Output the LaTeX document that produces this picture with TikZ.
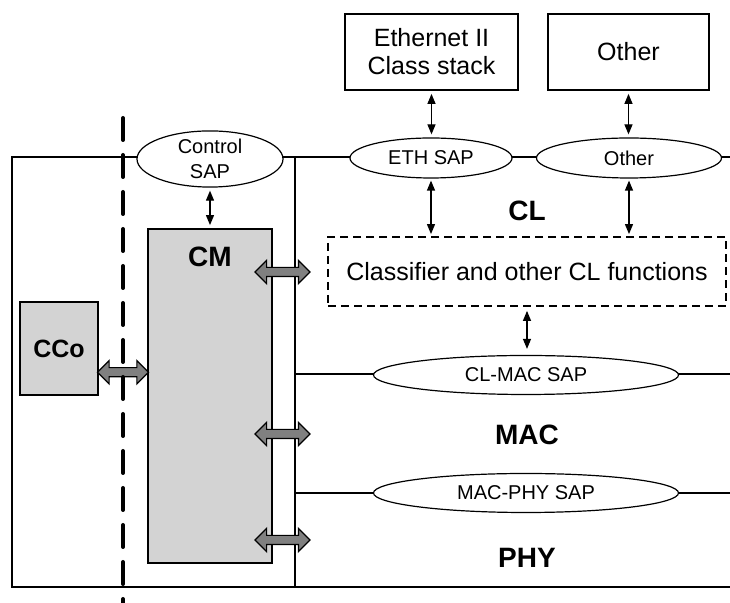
\documentclass[tikz,border=0pt]{standalone}
\usepackage{fontspec}
\setmainfont{Liberation Sans}
\usetikzlibrary{arrows.meta,shapes.geometric,shapes.arrows,calc}

\definecolor{cmgray}{RGB}{211,211,211}
\definecolor{arrgray}{RGB}{128,128,128}

\tikzset{
  sap/.style={ellipse,draw,fill=white,line width=0.6pt,inner sep=0pt,
    font=\fontsize{10}{12.5}\selectfont,align=center},
  stackbox/.style={rectangle,draw,line width=0.9pt,inner sep=0pt,
    font=\fontsize{12.5}{14}\selectfont,align=center},
  entity/.style={rectangle,draw,fill=cmgray,line width=0.9pt,inner sep=0pt},
  layername/.style={font=\bfseries\fontsize{14}{16}\selectfont,inner sep=0pt},
  sapline/.style={line width=0.6pt,{Triangle[length=5pt,width=4pt]}-{Triangle[length=5pt,width=4pt]}},
  blockarrow/.style={double arrow,draw,fill=arrgray,line width=0.6pt,inner xsep=0pt,
    inner ysep=2pt,minimum width=11pt,double arrow head extend=3.5pt,shape border rotate=0},
  layerline/.style={line width=0.9pt}
}

\begin{document}
\begin{tikzpicture}[x=0.5pt,y=-0.5pt]
  \useasboundingbox (0,0) rectangle (730,603);
  % frame and layer boundaries
  \coordinate (TL) at (12,157);
  \coordinate (TR) at (730,157);
  \coordinate (BL) at (12,587);
  \coordinate (BR) at (730,587);
  \coordinate (ST) at (295,157);
  \coordinate (SB) at (295,587);
  \coordinate (M1) at (295,374);
  \coordinate (M1r) at (730,374);
  \coordinate (M2) at (295,493);
  \coordinate (M2r) at (730,493);
  \draw[layerline] (TR) -- (TL) -- (BL) -- (BR);
  \draw[layerline] (ST) -- (SB);
  \draw[layerline] (M1) -- (M1r);
  \draw[layerline] (M2) -- (M2r);
  % upper stacks
  \node[stackbox,minimum width=86.5pt,minimum height=38pt] (eth) at (431.5,52) {Ethernet II\\Class stack};
  \node[stackbox,minimum width=80.5pt,minimum height=38pt] (oth) at (628.5,52) {Other};
  % SAPs
  \node[sap,minimum width=73pt,minimum height=24pt] (ctrlsap) at (210,159) {Control\\SAP};
  \node[sap,minimum width=81pt,minimum height=20pt] (ethsap) at (431,158) {ETH SAP};
  \node[sap,minimum width=92.5pt,minimum height=20pt] (othsap) at (629,158) {Other};
  \node[sap,minimum width=152.5pt,minimum height=19.5pt] (clmac) at (526,375) {CL-MAC SAP};
  \node[sap,minimum width=152.5pt,minimum height=19.5pt] (macphy) at (526,493) {MAC-PHY SAP};
  % classifier
  \node[stackbox,dashed,dash pattern=on 4pt off 2.5pt,minimum width=199pt,minimum height=34.5pt] (clf) at (527,271.5) {Classifier and other CL functions};
  % CM and CCo
  \node[entity,minimum width=62pt,minimum height=167pt] (cm) at (210,396) {};
  \node[layername] (cmlbl) at (210,257) {CM};
  \node[entity,minimum width=39pt,minimum height=46.5pt,font=\bfseries\fontsize{12.5}{14}\selectfont] (cco) at (59,348.5) {CCo};
  % layer names
  \node[layername] (cl) at (527,211) {CL};
  \node[layername] (mac) at (527,435) {MAC};
  \node[layername] (phy) at (527,558) {PHY};
  % SAP arrows
  \draw[sapline,shorten >=1.5pt,shorten <=1.5pt] (ctrlsap.south) -- (cm.north);
  \draw[sapline,shorten >=1.5pt,shorten <=1.5pt] (eth.south) -- (eth.south |- ethsap.north);
  \draw[sapline,shorten >=1.5pt,shorten <=1.5pt] (oth.south) -- (oth.south |- othsap.north);
  \draw[sapline,shorten >=1pt,shorten <=1pt] (ethsap.south) -- (ethsap.south |- clf.north);
  \draw[sapline,shorten >=1pt,shorten <=1pt] (othsap.south) -- (othsap.south |- clf.north);
  \draw[sapline,shorten >=3pt,shorten <=2pt] (clf.south) -- (clf.south |- clmac.north);
  % block arrows
  \node[blockarrow,minimum height=25.5pt] (a0) at ($(cco.east)!0.5!(cm.west)$) {};
  \node[blockarrow,minimum height=27.5pt] (a1) at (282.5,272) {};
  \node[blockarrow,minimum height=27.5pt] (a2) at (282.5,434) {};
  \node[blockarrow,minimum height=27.5pt] (a3) at (282.5,540) {};
  % separation line
  \coordinate (dtop) at (123,118);
  \coordinate (dbot) at (123,603);
  \draw[line width=2pt,dash pattern=on 11pt off 7.5pt,line cap=round] (dtop) -- (dbot);
\end{tikzpicture}
\end{document}
